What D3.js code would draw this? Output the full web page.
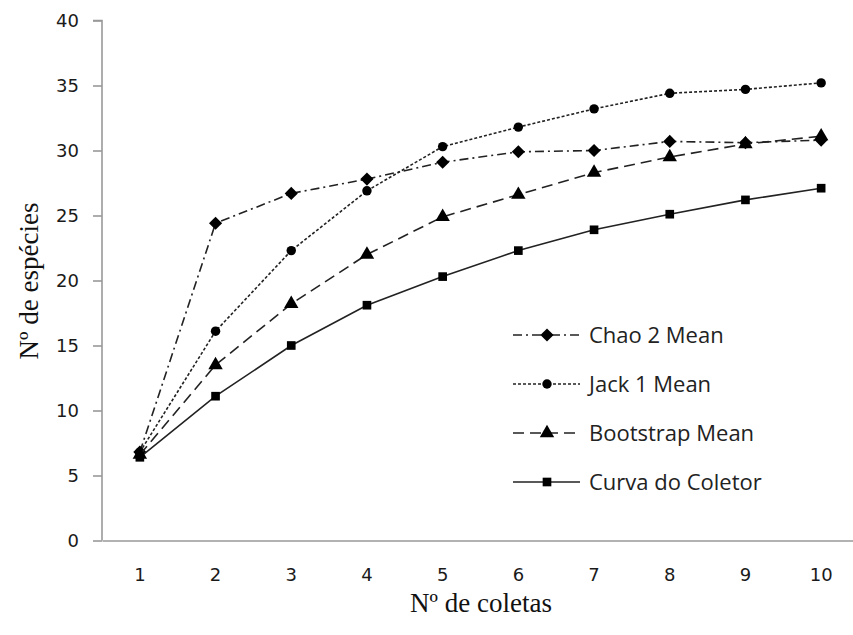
<!DOCTYPE html>
<html>
<head>
<meta charset="utf-8">
<script src="https://cdn.jsdelivr.net/npm/d3@7"></script>
<style>
  body { margin: 0; background: #fff; }
  svg { display: block; }
  .axis-title { font-family: "Liberation Serif", "Times New Roman", serif; font-size: 27px; fill: #111; }
  .legend text { font-family: "Open Sans", "Noto Sans", sans-serif; font-size: 22px; fill: #222; }
</style>
</head>
<body>
<svg id="chart" width="853" height="635"></svg>
<script>
var coletas = [1, 2, 3, 4, 5, 6, 7, 8, 9, 10]
var yTicks = [0, 5, 10, 15, 20, 25, 30, 35, 40]

var chao2 = [6.8, 24.4, 26.7, 27.8, 29.1, 29.9, 30.0, 30.7, 30.6, 30.8]
var jack1 = [6.8, 16.1, 22.3, 26.9, 30.3, 31.8, 33.2, 34.4, 34.7, 35.2]
var bootstrap = [6.6, 13.5, 18.2, 22.0, 24.9, 26.6, 28.3, 29.5, 30.5, 31.1]
var curva = [6.4, 11.1, 15.0, 18.1, 20.3, 22.3, 23.9, 25.1, 26.2, 27.1]

var series = [
  { name: 'Chao 2 Mean', values: chao2, dash: '9,4,2,4', symbol: d3.symbolDiamond2 },
  { name: 'Jack 1 Mean', values: jack1, dash: '3,2', symbol: d3.symbolCircle },
  { name: 'Bootstrap Mean', values: bootstrap, dash: '11,6', symbol: d3.symbolTriangle },
  { name: 'Curva do Coletor', values: curva, dash: null, symbol: d3.symbolSquare }
]

var svg = d3.select('#chart')
var plotLeft = 102, plotTop = 20.5, plotBottom = 540.5

var x = d3.scaleBand().domain(coletas).range([plotLeft, plotLeft + 757])
var y = d3.scaleLinear().domain([0, 40]).range([plotBottom, plotTop])

// y axis
var yAxis = svg.append('g')
  .attr('transform', 'translate(' + plotLeft + ',0)')
  .call(d3.axisLeft(y).tickValues(yTicks).tickSize(9).tickPadding(14))
yAxis.selectAll('path, line').attr('stroke', '#999').attr('stroke-width', 1.6)
yAxis.select('.domain').attr('d', 'M-9,' + plotTop + 'H0V' + plotBottom)

// x axis (no tick marks)
var xAxis = svg.append('g')
  .attr('transform', 'translate(0,' + plotBottom + ')')
  .call(d3.axisBottom(x).tickSize(0).tickPadding(28))
xAxis.select('.domain').attr('stroke', '#999').attr('stroke-width', 1.6)

svg.selectAll('.tick text')
  .style('font-family', '"DejaVu Sans", Verdana, sans-serif')
  .style('font-size', '18px')
  .style('fill', '#1a1a1a')

svg.append('text').attr('class', 'axis-title')
  .attr('x', 481).attr('y', 612).attr('text-anchor', 'middle')
  .text('Nº de coletas')

svg.append('text').attr('class', 'axis-title')
  .attr('transform', 'translate(38,281) rotate(-90)').attr('text-anchor', 'middle')
  .text('Nº de espécies')

var line = d3.line()
  .x(function (d, i) { return x(coletas[i]) + x.bandwidth() / 2 })
  .y(function (d) { return y(d) })

var sizes = { 'Chao 2 Mean': 110, 'Jack 1 Mean': 70, 'Bootstrap Mean': 90, 'Curva do Coletor': 75 }

series.forEach(function (s) {
  svg.append('path')
    .attr('d', line(s.values))
    .attr('fill', 'none')
    .attr('stroke', '#222')
    .attr('stroke-width', 1.6)
    .attr('stroke-dasharray', s.dash)

  svg.selectAll(null)
    .data(s.values)
    .enter()
    .append('path')
    .attr('d', d3.symbol().type(s.symbol).size(sizes[s.name]))
    .attr('transform', function (d, i) {
      return 'translate(' + (x(coletas[i]) + x.bandwidth() / 2) + ',' + y(d) + ')'
    })
    .attr('fill', '#000')
})

// legend
var legend = svg.append('g').attr('class', 'legend')
var rowY = d3.scalePoint().domain(series.map(function (s) { return s.name })).range([335, 482])

series.forEach(function (s) {
  var yy = rowY(s.name)
  legend.append('line')
    .attr('x1', 513).attr('x2', 580).attr('y1', yy).attr('y2', yy)
    .attr('stroke', '#222').attr('stroke-width', 1.6)
    .attr('stroke-dasharray', s.dash)
  legend.append('path')
    .attr('d', d3.symbol().type(s.symbol).size(sizes[s.name]))
    .attr('transform', 'translate(547,' + yy + ')')
    .attr('fill', '#000')
  legend.append('text')
    .attr('x', 589).attr('y', yy).attr('dy', '0.35em')
    .text(s.name)
})
</script>
</body>
</html>
